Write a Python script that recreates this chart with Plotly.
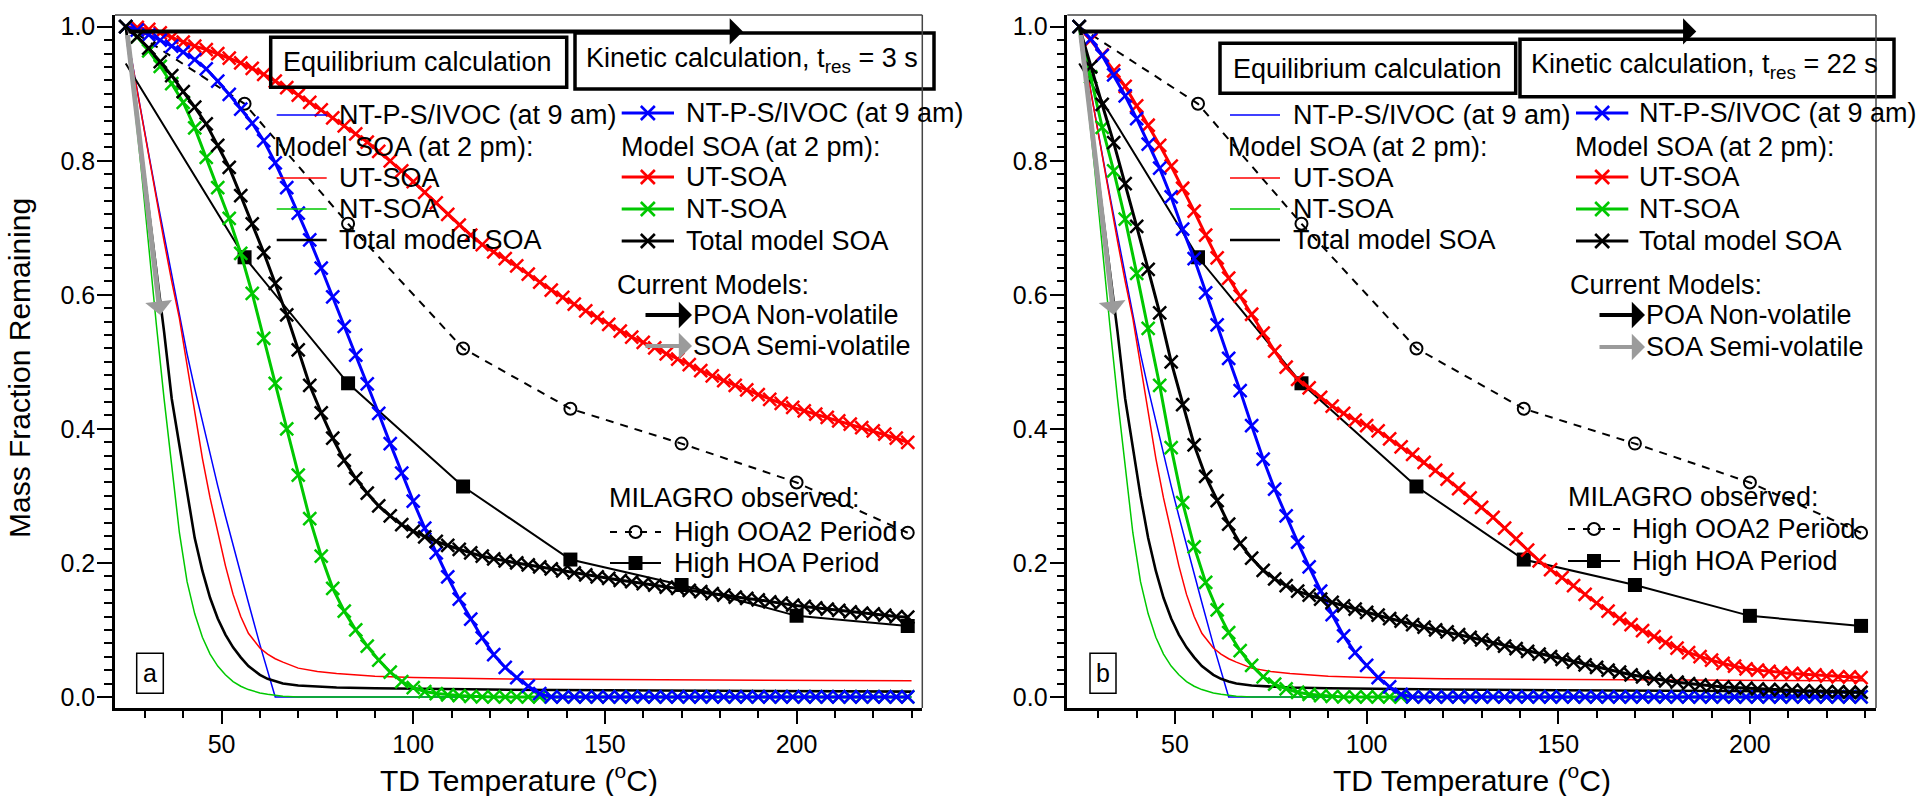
import plotly.graph_objects as go

W, H = 1919, 796
FONT = "Liberation Sans, Arial, Helvetica, sans-serif"

# ---------------- data ----------------
# kinetic model temperature grid (deg C)
kin_t = [25, 28, 31, 34, 37, 40, 43, 46, 49, 52,
         55, 58, 61, 64, 67, 70, 73, 76, 79, 82,
         85, 88, 91, 94, 97, 100, 103, 106, 109, 112,
         115, 118, 121, 124, 127, 130, 133, 136, 139, 142,
         145, 148, 151, 154, 157, 160, 163, 166, 169, 172,
         175, 178, 181, 184, 187, 190, 193, 196, 199, 202,
         205, 208, 211, 214, 217, 220, 223, 226, 229]

# panel a: kinetic, t_res = 3 s
kin_a_ivoc = [1.000, 0.995, 0.988, 0.980, 0.971, 0.962, 0.951, 0.937, 0.919, 0.899,
              0.877, 0.856, 0.830, 0.797, 0.760, 0.722, 0.682, 0.640, 0.597, 0.553,
              0.510, 0.467, 0.423, 0.378, 0.334, 0.292, 0.252, 0.215, 0.179, 0.146,
              0.116, 0.088, 0.063, 0.044, 0.029, 0.016, 0.005, 0, 0, 0,
              0, 0, 0, 0, 0, 0, 0, 0, 0, 0,
              0, 0, 0, 0, 0, 0, 0, 0, 0, 0,
              0, 0, 0, 0, 0, 0, 0, 0, 0]
kin_a_ut = [1.000, 0.999, 0.996, 0.991, 0.984, 0.977, 0.971, 0.966, 0.960, 0.953,
            0.946, 0.938, 0.929, 0.919, 0.909, 0.898, 0.887, 0.876, 0.864, 0.852,
            0.840, 0.828, 0.814, 0.800, 0.785, 0.769, 0.753, 0.737, 0.720, 0.704,
            0.689, 0.675, 0.664, 0.654, 0.643, 0.631, 0.619, 0.607, 0.596, 0.586,
            0.576, 0.566, 0.556, 0.546, 0.537, 0.529, 0.521, 0.512, 0.504, 0.496,
            0.487, 0.479, 0.472, 0.465, 0.458, 0.451, 0.444, 0.438, 0.432, 0.427,
            0.422, 0.417, 0.412, 0.407, 0.402, 0.397, 0.392, 0.386, 0.380]
kin_a_nt = [1.000, 0.985, 0.964, 0.941, 0.915, 0.887, 0.849, 0.805, 0.760, 0.714,
            0.662, 0.602, 0.535, 0.468, 0.400, 0.331, 0.266, 0.210, 0.162, 0.128,
            0.100, 0.076, 0.055, 0.037, 0.023, 0.014, 0.008, 0.005, 0.003, 0.002,
            0.001, 0, 0, 0, 0, 0, 0, 0, 0, 0,
            0, 0, 0, 0, 0, 0, 0, 0, 0, 0,
            0, 0, 0, 0, 0, 0, 0, 0, 0, 0,
            0, 0, 0, 0, 0, 0, 0, 0, 0]
kin_a_tot = [1.000, 0.985, 0.968, 0.948, 0.927, 0.903, 0.880, 0.855, 0.823, 0.790,
             0.748, 0.706, 0.663, 0.617, 0.570, 0.518, 0.465, 0.424, 0.386, 0.353,
             0.326, 0.304, 0.285, 0.270, 0.257, 0.247, 0.239, 0.232, 0.226, 0.220,
             0.215, 0.210, 0.206, 0.203, 0.200, 0.197, 0.194, 0.191, 0.188, 0.185,
             0.182, 0.179, 0.177, 0.174, 0.172, 0.169, 0.167, 0.164, 0.162, 0.159,
             0.157, 0.154, 0.152, 0.149, 0.147, 0.145, 0.142, 0.140, 0.137, 0.135,
             0.133, 0.131, 0.129, 0.127, 0.125, 0.124, 0.122, 0.120, 0.119]

# panel b: kinetic, t_res = 22 s
kin_b_ivoc = [1.000, 0.982, 0.957, 0.928, 0.897, 0.863, 0.825, 0.789, 0.746, 0.698,
              0.654, 0.603, 0.555, 0.505, 0.457, 0.405, 0.355, 0.310, 0.270, 0.231,
              0.194, 0.158, 0.123, 0.091, 0.066, 0.047, 0.029, 0.015, 0.004, 0,
              0, 0, 0, 0, 0, 0, 0, 0, 0, 0,
              0, 0, 0, 0, 0, 0, 0, 0, 0, 0,
              0, 0, 0, 0, 0, 0, 0, 0, 0, 0,
              0, 0, 0, 0, 0, 0, 0, 0, 0]
kin_b_ut = [1.000, 0.980, 0.958, 0.934, 0.911, 0.882, 0.853, 0.823, 0.792, 0.759,
            0.725, 0.689, 0.655, 0.625, 0.598, 0.571, 0.543, 0.516, 0.492, 0.474,
            0.461, 0.447, 0.434, 0.423, 0.413, 0.405, 0.397, 0.385, 0.373, 0.362,
            0.350, 0.338, 0.325, 0.311, 0.297, 0.283, 0.268, 0.252, 0.236, 0.219,
            0.203, 0.190, 0.178, 0.166, 0.153, 0.140, 0.128, 0.117, 0.108, 0.099,
            0.090, 0.081, 0.073, 0.066, 0.060, 0.055, 0.050, 0.046, 0.042, 0.040,
            0.038, 0.036, 0.035, 0.034, 0.033, 0.031, 0.030, 0.030, 0.029]
kin_b_nt = [1.000, 0.925, 0.850, 0.785, 0.713, 0.632, 0.550, 0.465, 0.372, 0.290,
            0.224, 0.171, 0.130, 0.096, 0.069, 0.047, 0.030, 0.019, 0.012, 0.007,
            0.004, 0.002, 0.001, 0, 0, 0, 0, 0, 0, 0,
            0, 0, 0, 0, 0, 0, 0, 0, 0, 0,
            0, 0, 0, 0, 0, 0, 0, 0, 0, 0,
            0, 0, 0, 0, 0, 0, 0, 0, 0, 0,
            0, 0, 0, 0, 0, 0, 0, 0, 0]
kin_b_tot = [1.000, 0.940, 0.884, 0.827, 0.766, 0.702, 0.638, 0.573, 0.500, 0.436,
             0.376, 0.329, 0.293, 0.258, 0.229, 0.207, 0.189, 0.176, 0.166, 0.158,
             0.152, 0.146, 0.141, 0.136, 0.131, 0.126, 0.122, 0.117, 0.113, 0.108,
             0.104, 0.100, 0.097, 0.093, 0.089, 0.085, 0.080, 0.076, 0.072, 0.068,
             0.064, 0.060, 0.056, 0.052, 0.048, 0.044, 0.040, 0.037, 0.033, 0.030,
             0.027, 0.024, 0.022, 0.020, 0.018, 0.016, 0.015, 0.014, 0.013, 0.012,
             0.011, 0.011, 0.010, 0.009, 0.009, 0.008, 0.008, 0.007, 0.007]

# equilibrium calculation (same in both panels)
eq_t = [25, 27, 29, 31, 33, 35, 37, 39, 41, 43, 45, 47, 49, 51, 53, 55, 57, 60, 62, 64,
        66, 70, 75, 80, 90, 100, 120, 150, 180, 200, 230]
eq_ivoc = [1.0, 0.935, 0.872, 0.81, 0.748, 0.688, 0.628, 0.57, 0.512, 0.46, 0.41, 0.362,
           0.315, 0.27, 0.226, 0.183, 0.141, 0.078, 0.037, 0.0,
           0, 0, 0, 0, 0, 0, 0, 0, 0, 0, 0]
eq_ut = [1.0, 0.935, 0.87, 0.805, 0.74, 0.68, 0.62, 0.565, 0.495, 0.425, 0.356, 0.297,
         0.244, 0.196, 0.153, 0.12, 0.095, 0.073, 0.064, 0.057,
         0.052, 0.043, 0.038, 0.035, 0.031, 0.029, 0.027, 0.026, 0.025, 0.025, 0.024]
eq_nt = [1.0, 0.9, 0.79, 0.67, 0.555, 0.445, 0.34, 0.245, 0.172, 0.124, 0.089, 0.064,
         0.046, 0.033, 0.023, 0.016, 0.011, 0.006, 0.004, 0.002,
         0.001, 0, 0, 0, 0, 0, 0, 0, 0, 0, 0]
eq_tot = [1.0, 0.91, 0.82, 0.73, 0.64, 0.545, 0.445, 0.375, 0.3, 0.237, 0.188, 0.148,
          0.117, 0.093, 0.074, 0.059, 0.046, 0.033, 0.027, 0.023,
          0.02, 0.017, 0.015, 0.014, 0.013, 0.012, 0.011, 0.01, 0.009, 0.009, 0.008]

# MILAGRO observations
obs_t = [25, 56, 83, 113, 141, 170, 200, 229]
obs_ooa2 = [1.0, 0.885, 0.706, 0.520, 0.430, 0.378, 0.320, 0.245]
obs_hoa = [0.945, 0.656, 0.468, 0.314, 0.205, 0.167, 0.121, 0.106]

x_ticks = [50, 100, 150, 200]
y_ticks = [0.0, 0.2, 0.4, 0.6, 0.8, 1.0]

# ---------------- geometry ----------------
BLUE, RED, GREEN, BLACK, GRAY = "#0000FF", "#FF0000", "#00C800", "#000000", "#9B9B9B"
DOM_PX = {"a": (115.0, 922.3), "b": (1067.3, 1876.0)}
XR = {"a": [22.2, 232.8], "b": [21.9, 232.9]}
TOP, BOT = 15.0, 708.0
YR = [-0.0165, 1.0175]
XSIZE, XLW = 13, 2.5


def fx(p):
    return p / W


def fy(p):
    return 1 - p / H


def px2x(p, panel):
    d0, d1 = DOM_PX[panel]
    r0, r1 = XR[panel]
    return r0 + (p - d0) / (d1 - d0) * (r1 - r0)


def py2y(p):
    return YR[1] - (p - TOP) / (BOT - TOP) * (YR[1] - YR[0])


fig = go.Figure()
annotations = []
shapes = []

kin = {"a": (kin_a_ivoc, kin_a_ut, kin_a_nt, kin_a_tot),
       "b": (kin_b_ivoc, kin_b_ut, kin_b_nt, kin_b_tot)}

# the first observed point sits under the model start marker
obs_sizes_c = [0] + [12] * (len(obs_t) - 1)
obs_sizes_s = [0] + [14] * (len(obs_t) - 1)

for panel, xa, ya in (("a", "x", "y"), ("b", "x2", "y2")):
    common = dict(xaxis=xa, yaxis=ya, showlegend=False, hoverinfo="skip")
    # equilibrium (thin lines)
    for ys, c, w in ((eq_ivoc, BLUE, 1.5), (eq_ut, RED, 1.5), (eq_nt, GREEN, 1.5), (eq_tot, BLACK, 2.6)):
        fig.add_trace(go.Scatter(x=eq_t, y=ys, mode="lines", line=dict(color=c, width=w), **common))
    # observations
    fig.add_trace(go.Scatter(x=obs_t, y=obs_ooa2, mode="lines+markers",
                             line=dict(color=BLACK, width=2, dash="8px,7px"),
                             marker=dict(symbol="circle-open", size=obs_sizes_c, color=BLACK, opacity=1,
                                         line=dict(width=2, color=BLACK)),
                             **common))
    fig.add_trace(go.Scatter(x=obs_t, y=obs_hoa, mode="lines+markers",
                             line=dict(color=BLACK, width=2),
                             marker=dict(symbol="square", size=obs_sizes_s, color=BLACK, opacity=1,
                                         line=dict(width=0)),
                             **common))
    # kinetic (thick lines with x markers)
    ivoc, ut, nt, tot = kin[panel]
    for ys, c in ((ut, RED), (nt, GREEN), (ivoc, BLUE), (tot, BLACK)):
        fig.add_trace(go.Scatter(x=kin_t, y=ys, mode="lines+markers",
                                 line=dict(color=c, width=3),
                                 marker=dict(symbol="x-thin", size=XSIZE, color=c, opacity=1,
                                             line=dict(width=XLW, color=c)),
                                 **common))

    # big arrows (current models)
    annotations.append(dict(x=186, y=0.993, ax=25.3, ay=0.993, xref=xa, yref=ya, axref=xa, ayref=ya,
                            text="", showarrow=True, arrowhead=1, arrowsize=1.1, arrowwidth=4,
                            arrowcolor=BLACK, standoff=0))
    annotations.append(dict(x=34, y=0.57, ax=25.4, ay=0.99, xref=xa, yref=ya, axref=xa, ayref=ya,
                            text="", showarrow=True, arrowhead=1, arrowsize=0.9, arrowwidth=5,
                            arrowcolor=GRAY, standoff=0))

# ---------------- legends / labels (pixel positions) ----------------
LEG = {
    "a": dict(lx0=276.7, lx1=326.7, ltx=338, lhx=273,
              rx0=621.7, rx1=674, rtx=685, rhx=620,
              cm=615.7, ar0=644, ar1=692, mil=608, ox0=610, ox1=661, otx=673,
              ys_l=(115, 147, 178, 209, 240), ys_r=(113, 147, 177, 209, 241),
              y_cm=285, y_poa=315, y_soa=346, y_mil=498, y_ooa=532, y_hoa=563,
              eq_box=(270.7, 37.3, 566.7, 87.3), eq_tx=(281.7, 62),
              ki_box=(575, 33, 934, 89), ki_tx=(585, 60), tres="3 s",
              lab_box=(136.7, 653.3, 163.3, 693.3), lab="a"),
    "b": dict(lx0=1230, lx1=1280, ltx=1291.7, lhx=1226.7,
              rx0=1576, rx1=1628.3, rtx=1638.3, rhx=1574,
              cm=1569, ar0=1598, ar1=1645, mil=1566.7, ox0=1568, ox1=1620, otx=1630.7,
              ys_l=(115, 147, 178, 209, 240), ys_r=(113, 147, 177, 209, 241),
              y_cm=285, y_poa=315, y_soa=347, y_mil=497, y_ooa=529, y_hoa=561,
              eq_box=(1220, 43.3, 1515.7, 93.3), eq_tx=(1231.7, 69),
              ki_box=(1520, 39.3, 1894, 96.7), ki_tx=(1530, 66), tres="22 s",
              lab_box=(1090, 653.3, 1116, 693.3), lab="b"),
}


def text(s, x, y, size=27, xanchor="left", **kw):
    annotations.append(dict(x=fx(x), y=fy(y), xref="paper", yref="paper", text=s, showarrow=False,
                            xanchor=xanchor, yanchor="middle", font=dict(family=FONT, size=size, color=BLACK),
                            borderpad=0, **kw))


def hline(x0, x1, y, color, width, dash=None):
    ln = dict(color=color, width=width)
    if dash:
        ln["dash"] = dash
    shapes.append(dict(type="line", xref="paper", yref="paper", x0=fx(x0), x1=fx(x1),
                       y0=fy(y), y1=fy(y), line=ln))


for panel, xa, ya in (("a", "x", "y"), ("b", "x2", "y2")):
    L = LEG[panel]
    names = ("NT-P-S/IVOC (at 9 am)", "Model SOA (at 2 pm):", "UT-SOA", "NT-SOA", "Total model SOA")
    cols = (BLUE, None, RED, GREEN, BLACK)
    # left column: equilibrium (thin lines)
    for nm, c, yy in zip(names, cols, L["ys_l"]):
        if c is None:
            text(nm, L["lhx"], yy)
        else:
            hline(L["lx0"], L["lx1"], yy, c, 2.6 if c == BLACK else 1.6)
            text(nm, L["ltx"], yy)
    # right column: kinetic (thick lines + x)
    for nm, c, yy in zip(names, cols, L["ys_r"]):
        if c is None:
            text(nm, L["rhx"], yy)
        else:
            hline(L["rx0"], L["rx1"], yy, c, 3)
            cx = (L["rx0"] + L["rx1"]) / 2
            fig.add_trace(go.Scatter(x=[px2x(cx, panel)], y=[py2y(yy)], mode="markers", xaxis=xa, yaxis=ya,
                                     marker=dict(symbol="x-thin", size=14, color=c, line=dict(width=2.6, color=c)),
                                     showlegend=False, hoverinfo="skip", cliponaxis=False))
            text(nm, L["rtx"], yy)
    # current models
    text("Current Models:", L["cm"], L["y_cm"])
    for yy, c, nm in ((L["y_poa"], BLACK, "POA Non-volatile"), (L["y_soa"], GRAY, "SOA Semi-volatile")):
        annotations.append(dict(x=fx(L["ar1"]), y=fy(yy), xref="paper", yref="paper", ax=-(L["ar1"] - L["ar0"]),
                                ay=0, text="", showarrow=True, arrowhead=1, arrowsize=1.1, arrowwidth=4,
                                arrowcolor=c, standoff=0))
        text(nm, L["ar1"], yy)
    # MILAGRO observed
    text("MILAGRO observed:", L["mil"], L["y_mil"])
    hline(L["ox0"], L["ox1"], L["y_ooa"], BLACK, 2, dash="7px,8px")
    hline(L["ox0"], L["ox1"], L["y_hoa"], BLACK, 2)
    cx = (L["ox0"] + L["ox1"]) / 2
    fig.add_trace(go.Scatter(x=[px2x(cx, panel)], y=[py2y(L["y_ooa"])], mode="markers", xaxis=xa, yaxis=ya,
                             marker=dict(symbol="circle-open", size=12, color=BLACK, line=dict(width=2, color=BLACK)),
                             showlegend=False, hoverinfo="skip", cliponaxis=False))
    fig.add_trace(go.Scatter(x=[px2x(cx, panel)], y=[py2y(L["y_hoa"])], mode="markers", xaxis=xa, yaxis=ya,
                             marker=dict(symbol="square", size=14, color=BLACK),
                             showlegend=False, hoverinfo="skip", cliponaxis=False))
    text("High OOA2 Period", L["otx"], L["y_ooa"])
    text("High HOA Period", L["otx"], L["y_hoa"])
    # calculation boxes
    for (x0, y0, x1, y1) in (L["eq_box"], L["ki_box"]):
        shapes.append(dict(type="rect", xref="paper", yref="paper", x0=fx(x0), x1=fx(x1), y0=fy(y1), y1=fy(y0),
                           line=dict(color=BLACK, width=3.5), fillcolor="rgba(0,0,0,0)"))
    text("Equilibrium calculation", *L["eq_tx"])
    text("Kinetic calculation, t<sub>res</sub> = " + L["tres"], *L["ki_tx"])
    # panel label
    x0, y0, x1, y1 = L["lab_box"]
    shapes.append(dict(type="rect", xref="paper", yref="paper", x0=fx(x0), x1=fx(x1), y0=fy(y1), y1=fy(y0),
                       line=dict(color=BLACK, width=1.5), fillcolor="rgba(0,0,0,0)"))
    text(L["lab"], (x0 + x1) / 2, (y0 + y1) / 2, size=25, xanchor="center")
    # frame (top and right)
    d0, d1 = DOM_PX[panel]
    shapes.append(dict(type="line", xref="paper", yref="paper", x0=fx(d0), x1=fx(d1), y0=fy(TOP), y1=fy(TOP),
                       line=dict(color="#444444", width=1.5)))
    shapes.append(dict(type="line", xref="paper", yref="paper", x0=fx(d1), x1=fx(d1), y0=fy(TOP), y1=fy(BOT),
                       line=dict(color="#444444", width=1.5)))
    # x axis title
    text("TD Temperature (<sup>o</sup>C)", (d0 + d1) / 2, 778, size=30, xanchor="center")

# y axis title (panel a only)
annotations.append(dict(x=fx(19), y=fy(368), xref="paper", yref="paper", text="Mass Fraction Remaining",
                        textangle=-90, showarrow=False, xanchor="center", yanchor="middle",
                        font=dict(family=FONT, size=30, color=BLACK)))


def xaxis_cfg(panel, anchor):
    d0, d1 = DOM_PX[panel]
    return dict(domain=[d0 / W, d1 / W], range=XR[panel], anchor=anchor, showgrid=False, zeroline=False,
                showline=True, linecolor=BLACK, linewidth=2.5, ticks="outside", ticklen=13, tickwidth=2,
                tickcolor=BLACK, tickmode="array", tickvals=x_ticks, ticktext=[str(v) for v in x_ticks],
                tickfont=dict(family=FONT, size=25, color=BLACK), ticklabelstandoff=-1, automargin=False,
                minor=dict(ticks="outside", ticklen=7, tickwidth=2, tickcolor=BLACK, dtick=10, tick0=0,
                           showgrid=False),
                fixedrange=True)


def yaxis_cfg(anchor):
    return dict(domain=[1 - BOT / H, 1 - TOP / H], range=YR, anchor=anchor, showgrid=False, zeroline=False,
                showline=True, linecolor=BLACK, linewidth=2.5, ticks="outside", ticklen=15, tickwidth=2,
                tickcolor=BLACK, tickmode="array", tickvals=y_ticks, ticktext=["%.1f" % v for v in y_ticks],
                tickfont=dict(family=FONT, size=25, color=BLACK), ticklabelstandoff=-3, automargin=False,
                minor=dict(ticks="outside", ticklen=8, tickwidth=2, tickcolor=BLACK, dtick=0.02, tick0=0,
                           showgrid=False),
                fixedrange=True)


fig.update_layout(
    width=W, height=H, margin=dict(l=0, r=0, t=0, b=0, pad=0),
    paper_bgcolor="white", plot_bgcolor="white", template="none",
    font=dict(family=FONT, size=25, color=BLACK),
    showlegend=False,
    xaxis=xaxis_cfg("a", "y"), yaxis=yaxis_cfg("x"),
    xaxis2=xaxis_cfg("b", "y2"), yaxis2=yaxis_cfg("x2"),
    annotations=annotations, shapes=shapes,
)

fig.write_html("out.html")
